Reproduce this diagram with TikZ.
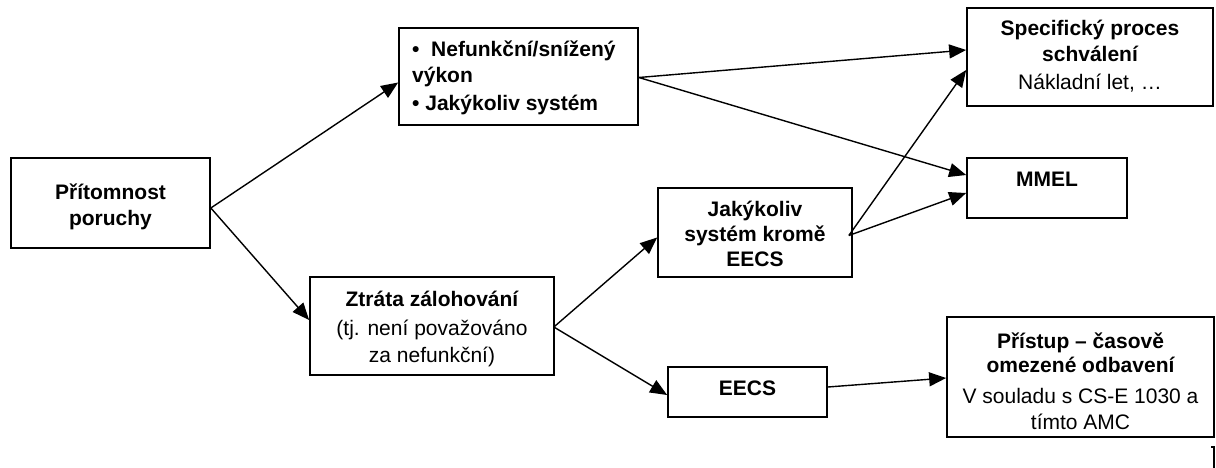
\documentclass[tikz,border=0pt]{standalone}
\usepackage{fontspec}
\setmainfont{Liberation Sans}
\usetikzlibrary{arrows.meta}
\begin{document}
\begin{tikzpicture}[x=1pt,y=-1pt,
  box/.style={draw,line width=1.7pt,inner sep=0pt,rectangle},
  tb/.style={anchor=base,inner sep=0pt,font=\fontsize{21pt}{25pt}\selectfont\bfseries},
  tr/.style={anchor=base,inner sep=0pt,font=\fontsize{21pt}{25pt}\selectfont},
  tbl/.style={anchor=base west,inner sep=0pt,font=\fontsize{21pt}{25pt}\selectfont\bfseries},
  arr/.style={line width=1.4pt,-{Triangle[length=17pt,width=14pt]}}]
\useasboundingbox (0,0) rectangle (1216,468);
% boxes
\node[box,minimum width=199pt,minimum height=90pt] (pr) at (110.5,203) {};
\node[box,minimum width=239pt,minimum height=97pt] (nef) at (518.5,76.5) {};
\node[box,minimum width=246pt,minimum height=98pt] (spec) at (1090,57) {};
\node[box,minimum width=160pt,minimum height=60pt] (mmel) at (1047,188) {};
\node[box,minimum width=194pt,minimum height=89pt] (jak) at (755,232.5) {};
\node[box,minimum width=244pt,minimum height=98pt] (zt) at (432,326) {};
\node[box,minimum width=159pt,minimum height=50pt] (eecs) at (747.5,392) {};
\node[box,minimum width=267pt,minimum height=120pt] (pri) at (1080.5,377) {};
% texts
\node[tb] (pr1) at (110.5,200) {Přítomnost};
\node[tb] (pr2) at (110.5,225) {poruchy};
\node[tbl] (nef1) at (412,57) {•\ \ Nefunkční/snížený};
\node[tbl] (nef2) at (412,83) {výkon};
\node[tbl] (nef3) at (412,111) {• Jakýkoliv systém};
\node[tb] (spec1) at (1090,36) {Specifický proces};
\node[tb] (spec2) at (1090,62) {schválení};
\node[tr] (spec3) at (1090,90) {Nákladní let, …};
\node[tb] (mmel1) at (1047,186) {MMEL};
\node[tb] (jak1) at (755,216) {Jakýkoliv};
\node[tb] (jak2) at (755,241) {systém kromě};
\node[tb] (jak3) at (755,266) {EECS};
\node[tb] (zt1) at (432,306) {Ztráta zálohování};
\node[tr] (zt2) at (432,335) {(tj. není považováno};
\node[tr] (zt3) at (432,362) {za nefunkční)};
\node[tb] (eecs1) at (747.5,395) {EECS};
\node[tb] (pri1) at (1080.5,348) {Přístup – časově};
\node[tb] (pri2) at (1080.5,372) {omezené odbavení};
\node[tr] (pri3) at (1080.5,403) {V souladu s CS-E 1030 a};
\node[tr] (pri4) at (1080.5,429) {tímto AMC};
% connectors
\draw[arr] ([yshift=-5pt]pr.east) -- ([yshift=-6pt]nef.west);
\draw[arr] ([yshift=-5pt]pr.east) -- ([yshift=6pt]zt.west);
\draw[arr] ([yshift=-1pt]nef.east) -- ([yshift=7pt]spec.west);
\draw[arr] ([yshift=-1pt]nef.east) -- ([yshift=13pt]mmel.west);
\draw[arr] ([xshift=-4pt,yshift=-3pt]jak.east) -- ([yshift=-13pt]spec.west);
\draw[arr] ([xshift=-4pt,yshift=-3pt]jak.east) -- ([yshift=-5pt]mmel.west);
\draw[arr] ([xshift=-1pt,yshift=-1pt]zt.east) -- ([yshift=-5pt]jak.west);
\draw[arr] ([xshift=-1pt,yshift=-1pt]zt.east) -- ([yshift=-3pt]eecs.west);
\draw[arr] ([yshift=5pt]eecs.east) -- ([yshift=-1pt]pri.west);
% stray mark at bottom right
\draw[line width=1.5pt] (1211,447) -- (1214,447) -- (1214,468);
\end{tikzpicture}
\end{document}
